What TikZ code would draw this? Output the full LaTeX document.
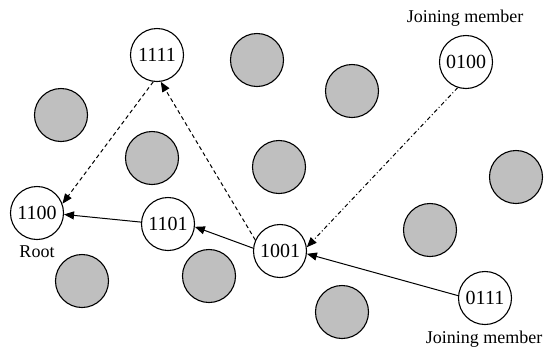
\documentclass[tikz,border=0pt]{standalone}
\usepackage{fontspec}
\setmainfont{Liberation Serif}
\usetikzlibrary{arrows.meta}
\begin{document}
\begin{tikzpicture}[x=1pt,y=-1pt,
  member/.style={circle,draw,line width=1.1pt,fill=white,minimum size=53pt,inner sep=0pt,
    font=\fontsize{20}{20}\selectfont},
  other/.style={circle,draw,line width=1.1pt,fill=black!25,minimum size=53pt,inner sep=0pt},
  lbl/.style={font=\fontsize{18}{18}\selectfont,inner sep=0pt},
  link/.style={line width=1pt,-{Triangle[length=10pt,width=8pt]}},
  dashlink/.style={link,dash pattern=on 4pt off 3pt},
  dotlink/.style={link,dash pattern=on 4pt off 2.5pt on 1pt off 2.5pt}]
\useasboundingbox (0,0) rectangle (552,349);
% other group members
\node[other] (g1) at (257,60) {};
\node[other] (g2) at (61,115) {};
\node[other] (g3) at (152,158) {};
\node[other] (g4) at (352,91) {};
\node[other] (g5) at (279,167) {};
\node[other] (g6) at (516,177) {};
\node[other] (g7) at (430,230) {};
\node[other] (g8) at (82,281) {};
\node[other] (g9) at (209,276) {};
\node[other] (g10) at (342,312) {};
% labelled members
\node[member] (n1111) at (157,55) {1111};
\node[member] (n0100) at (466,62) {0100};
\node[member] (n1100) at (37,213) {1100};
\node[member] (n1101) at (168,224) {1101};
\node[member] (n1001) at (280,251) {1001};
\node[member] (n0111) at (485,298) {0111};
% captions
\node[lbl] (tj1) at (465,18) {Joining member};
\node[lbl] (troot) at (37,252) {Root};
\node[lbl] (tj2) at (484,339) {Joining member};
% connectors
\draw[link] (n1101.176) -- (n1100.-3);
\draw[link] (n1001.174) -- (n1101.-6);
\draw[link] (n0111.175) -- (n1001.-6);
\draw[dashlink] (n1001.156) -- (n1111.-82);
\draw[dashlink] (n1111.-98) -- (n1100.20);
\draw[dotlink] (n0100.-108) -- (n1001.8);
\end{tikzpicture}
\end{document}
